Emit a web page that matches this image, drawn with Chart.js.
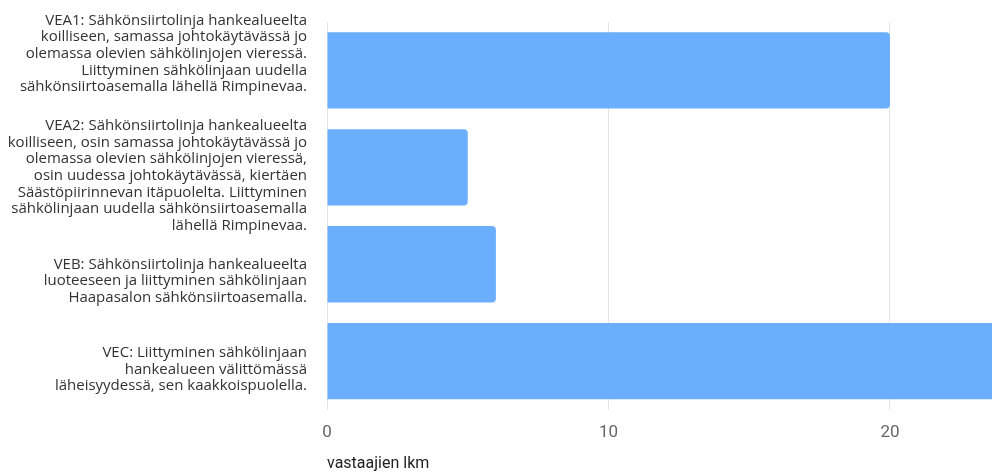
<!DOCTYPE html>
<html>
<head>
<meta charset="utf-8">
<script src="https://cdn.jsdelivr.net/npm/chart.js@4"></script>
<style>
  html, body { margin: 0; padding: 0; background: #fff; overflow: hidden; }
  #wrap { width: 992px; height: 472px; overflow: hidden; }
</style>
</head>
<body>
<div id="wrap">
  <canvas id="chart" width="1194" height="472"></canvas>
</div>
<script>
const categories = [
  ['VEA1: Sähkönsiirtolinja hankealueelta', 'koilliseen, samassa johtokäytävässä jo', 'olemassa olevien sähkölinjojen vieressä.', 'Liittyminen sähkölinjaan uudella', 'sähkönsiirtoasemalla lähellä Rimpinevaa.'],
  ['VEA2: Sähkönsiirtolinja hankealueelta', 'koilliseen, osin samassa johtokäytävässä jo', 'olemassa olevien sähkölinjojen vieressä,', 'osin uudessa johtokäytävässä, kiertäen', 'Säästöpiirinnevan itäpuolelta. Liittyminen', 'sähkölinjaan uudella sähkönsiirtoasemalla', 'lähellä Rimpinevaa.'],
  ['VEB: Sähkönsiirtolinja hankealueelta', 'luoteeseen ja liittyminen sähkölinjaan', 'Haapasalon sähkönsiirtoasemalla.'],
  ['VEC: Liittyminen sähkölinjaan', 'hankealueen välittömässä', 'läheisyydessä, sen kaakkoispuolella.']
];
const counts = [20, 5, 6, 25];
const xTicks = [0, 10, 20, 30];
const axisTitle = 'vastaajien lkm';

// blank lines before/after each label, to place the text blocks like in the picture
const leadBlank = [0, 1, 2, 1];
const trailBlank = [2, 0, 0, 0];

new Chart(document.getElementById('chart'), {
  type: 'bar',
  data: {
    labels: categories,
    datasets: [{
      data: counts,
      backgroundColor: '#6caefe',
      borderRadius: 4,
      borderSkipped: 'start',
      categoryPercentage: 1,
      barPercentage: 0.787
    }]
  },
  options: {
    indexAxis: 'y',
    responsive: false,
    animation: false,
    layout: { padding: { top: 22, right: 10, left: 0, bottom: 0 } },
    plugins: { legend: { display: false }, tooltip: { enabled: false } },
    scales: {
      x: {
        min: xTicks[0],
        max: xTicks[xTicks.length - 1],
        afterBuildTicks: (s) => { s.ticks = xTicks.map(v => ({ value: v })); },
        grid: { color: '#e6e6e6', drawTicks: false },
        border: { display: false },
        ticks: {
          padding: 13,
          color: '#666',
          font: { family: 'Roboto', size: 17 }
        },
        title: {
          display: true,
          text: axisTitle,
          align: 'start',
          color: '#222',
          padding: { top: 0, bottom: 0 },
          font: { family: 'Roboto', size: 16, lineHeight: 1 }
        }
      },
      y: {
        grid: { display: false, drawTicks: false },
        border: { display: false },
        afterFit: (s) => { s.width = 327; s.paddingTop = 0; s.paddingBottom = 0; },
        ticks: {
          autoSkip: false,
          padding: 20,
          color: '#333',
          font: { family: 'Open Sans', size: 15, lineHeight: 1.113 },
          callback: (v, i) => [
            ...Array(leadBlank[i]).fill(''),
            ...categories[i],
            ...Array(trailBlank[i]).fill('')
          ]
        }
      }
    }
  }
});
</script>
</body>
</html>
